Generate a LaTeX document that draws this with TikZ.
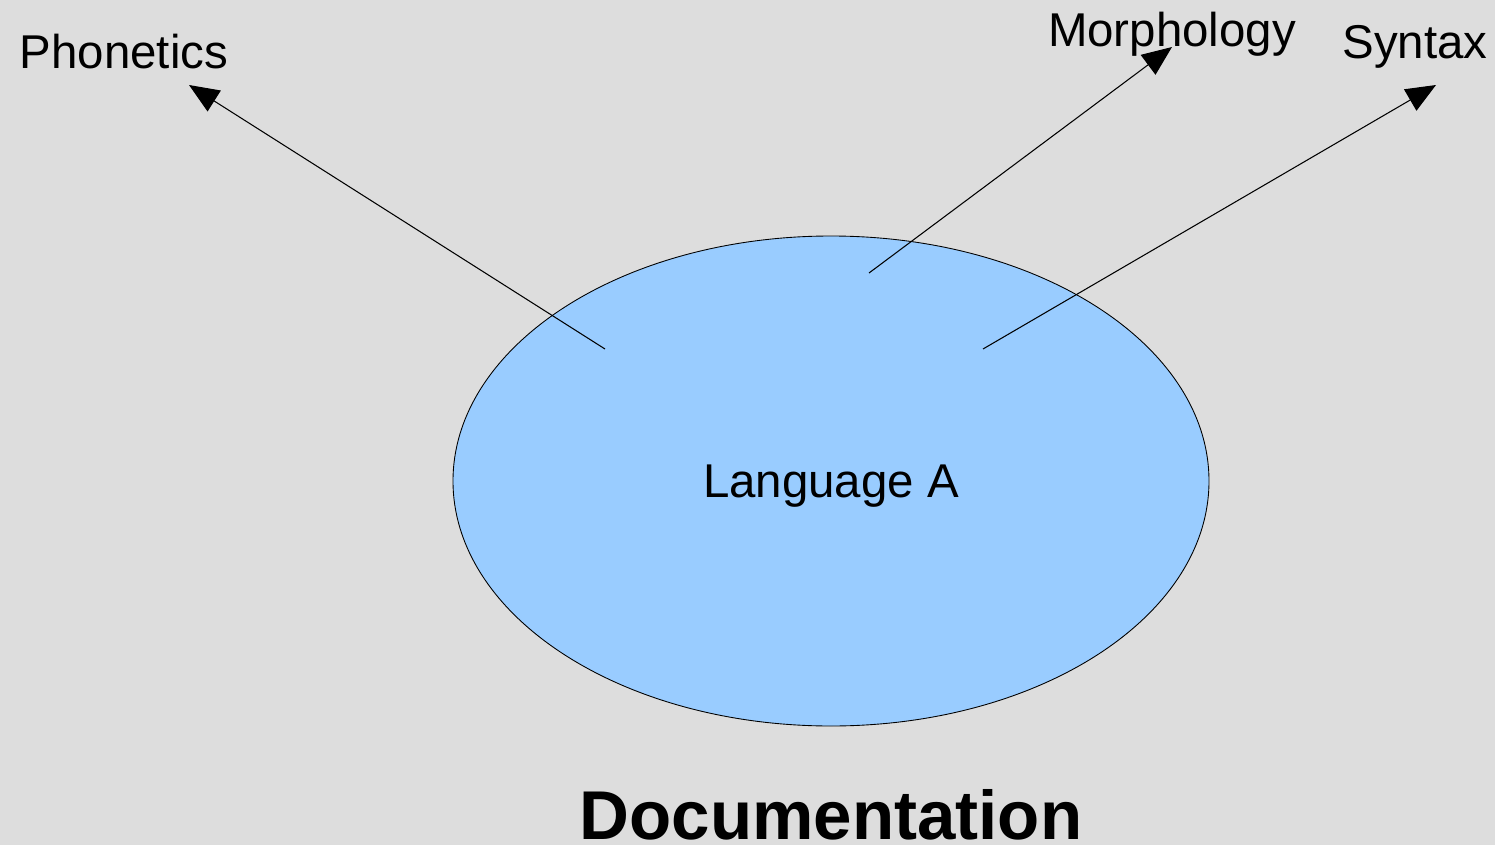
\documentclass[tikz,border=0pt]{standalone}
\usepackage{fontspec}
\setmainfont{Liberation Sans}
\usetikzlibrary{arrows.meta, shapes.geometric}

\begin{document}
\begin{tikzpicture}[
  x=0.02cm, y=-0.02cm,
  >={Triangle[length=17pt, width=14pt]},
  label/.style={font=\fontsize{27}{30}\selectfont, inner sep=0pt},
  lang/.style={ellipse, draw, line width=0.5pt, fill=langblue,
               minimum width=756*0.02cm, minimum height=490*0.02cm,
               text depth=0pt, font=\fontsize{27}{30}\selectfont},
  pointer/.style={->, line width=0.6pt}
]
\definecolor{bggray}{RGB}{221,221,221}
\definecolor{langblue}{RGB}{153,204,255}

% --- Background ---
\fill[bggray] (0,0) rectangle (1495,845);
\useasboundingbox (0,0) rectangle (1495,845);

% --- Language ellipse ---
\node[lang] (langA) at (831,481) {Language A};

% --- Labels ---
\node[label] (phon) at (124,52) {Phonetics};
\node[label] (morph) at (1172,34) {Morphology};
\node[label] (syn) at (1415,47) {Syntax};
\node[font=\fontsize{39.3}{42}\selectfont\bfseries, inner sep=0pt] (doc) at (831,815) {Documentation};

% --- Arrow ends ---
\coordinate (phonend) at (189,85);
\coordinate (morphend) at (1172,47);
\coordinate (synend) at (1436,85);
\coordinate (phonstart) at (605,349);
\coordinate (morphstart) at (869,273);
\coordinate (synstart) at (983,349);

% --- Arrows ---
\draw[pointer] (phonstart) -- (phonend);
\draw[pointer] (morphstart) -- (morphend);
\draw[pointer] (synstart) -- (synend);

\end{tikzpicture}
\end{document}
